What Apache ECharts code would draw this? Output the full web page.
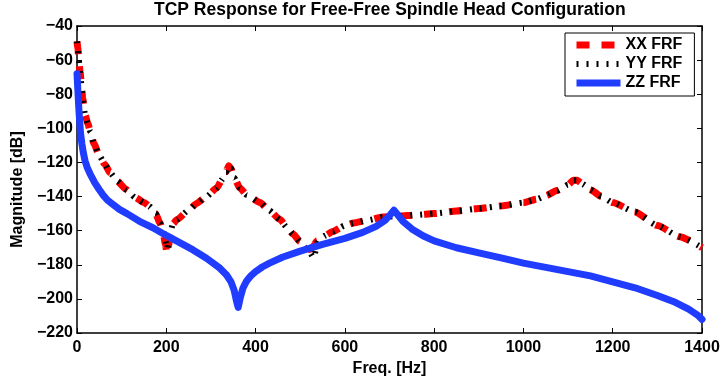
<!DOCTYPE html>
<html><head><meta charset="utf-8">
<script src="https://cdn.jsdelivr.net/npm/echarts@6/dist/echarts.min.js"></script>
<style>html,body{margin:0;padding:0;background:#fff}#c{width:720px;height:379px}</style>
</head><body><div id="c"></div>
<script>
const titleText = 'TCP Response for Free-Free Spindle Head Configuration';
const xName = 'Freq. [Hz]';
const yName = 'Magnitude [dB]';
const seriesNames = ['XX FRF', 'YY FRF', 'ZZ FRF'];

const xxFreq = [0,2,4,7,10,13,18,24,30,38,50,62,74,90,111,130,150,164,176,186,193,198,202,205,209,215,224,250,268,290,313,325,334,340,345,352,365,380,410,430,455,470,484,500,512,522,530,537,555,573,600,620,650,685,720,760,800,850,900,950,1000,1030,1050,1075,1100,1112,1120,1135,1150,1175,1200,1250,1300,1350,1400];
const xxMag  = [-49,-53,-60,-67,-75,-83,-92,-97,-102,-109,-116,-121,-126,-131,-136,-140.5,-143.5,-146,-150,-155.5,-161,-168,-174,-169,-161,-156,-153.5,-148,-144,-140,-135,-130,-125.5,-122,-123.5,-129,-135,-139,-143.5,-148,-153.5,-158,-162,-166.5,-170,-171,-169,-166,-163,-160.5,-157,-155.5,-154,-152,-151.5,-150.8,-150,-148.5,-147,-145.5,-143.5,-141.5,-139.5,-136.5,-133,-130.5,-130.5,-133,-136,-140,-143.5,-149,-157,-163.5,-170];

const yyFreq = [0,2,4,7,10,13,18,24,30,38,50,62,74,90,111,130,150,164,176,186,193,198,202,205,209,215,224,250,268,290,313,325,334,340,345,352,365,380,410,430,455,470,484,500,512,522,530,540,555,573,600,620,650,685,720,760,800,850,900,950,1000,1030,1050,1075,1100,1112,1120,1135,1150,1175,1200,1250,1300,1350,1400];
const yyMag  = [-49,-53,-60,-67,-75,-83,-92,-97,-102,-109,-116,-121,-126,-131,-136,-140.5,-143.5,-146,-150,-155.5,-160,-166,-171,-167,-161,-156,-153.5,-148,-144,-140,-135,-130,-125.5,-122,-123.5,-129,-135,-139,-143.5,-148,-153.5,-158,-162,-166.5,-170,-173,-176,-166,-163,-160.5,-157,-155.5,-154,-152,-151.5,-150.8,-150,-148.5,-147,-145.5,-143.5,-141.5,-139.5,-136.5,-133,-130.5,-130.5,-133,-136,-140,-143.5,-149,-157,-163.5,-170];

const zzFreq = [0,2,4,6,8,11,14,18,23,29,40,50,58,68,80,95,112,140,170,200,230,260,290,320,335,345,352,357,361,366,372,380,390,400,415,430,460,500,550,600,640,670,690,702,710,718,730,750,775,800,850,900,950,1000,1050,1100,1150,1200,1250,1300,1340,1370,1390,1400];
const zzMag  = [-68,-78,-88,-96,-103,-109,-114,-119,-123,-126.5,-132,-136,-139,-142,-144.5,-147.5,-150,-154.5,-158.3,-162.8,-167,-171.3,-176.2,-182,-186,-190,-195,-201,-205,-199,-193.5,-189.5,-186.3,-184,-181.3,-179.2,-175.6,-172,-168,-164.5,-161,-157.5,-154,-150.5,-148,-150.5,-154.5,-159,-163,-166,-170,-173,-176,-179,-181.5,-184,-186.5,-190,-193.5,-198,-202,-206,-209.5,-212];

const xTicks = {min: 0, max: 1400, step: 200};
const yTicks = {min: -220, max: -40, step: 20};

function pairs(xs, ys) { return xs.map((x, i) => [x, ys[i]]); }

const FONT = "'Liberation Sans', Arial, Helvetica, sans-serif";
const lbl = {fontFamily: FONT, fontWeight: 'bold', fontSize: 16, color: '#000'};
const axisLine = {show: true, onZero: false, lineStyle: {color: '#000', width: 1.5}};
const tick = {show: true, inside: true, length: 5, lineStyle: {color: '#000', width: 1}};
const minus = v => String(v).replace('-', '\u2212');
const BLUE = '#1f3cff';

const chart = echarts.init(document.getElementById('c'), null, {renderer: 'canvas'});
chart.setOption({
  animation: false,
  backgroundColor: '#fff',
  title: {
    text: titleText, left: 154, top: 1, padding: 0,
    textStyle: {fontFamily: FONT, fontWeight: 'bold', fontSize: 17.5, color: '#000'}
  },
  grid: {left: 77, right: 18, top: 26, bottom: 46, outerBoundsMode: 'none', containLabel: false},
  legend: {
    orient: 'vertical', left: 565, top: 33,
    padding: [4, 12, 5, 8], itemGap: 3, itemWidth: 44, itemHeight: 14,
    borderColor: '#000', borderWidth: 1, backgroundColor: '#fff',
    itemStyle: {opacity: 0},
    lineStyle: {width: 'inherit', type: 'inherit', color: 'inherit', cap: 'butt'},
    textStyle: {fontFamily: FONT, fontWeight: 'bold', fontSize: 16, color: '#000'},
    data: seriesNames
  },
  xAxis: [
    {type: 'value', position: 'bottom', min: xTicks.min, max: xTicks.max, interval: xTicks.step,
     name: xName, nameLocation: 'middle', nameGap: 28, nameTextStyle: lbl,
     axisLine, axisTick: tick, splitLine: {show: false},
     axisLabel: Object.assign({margin: 7, formatter: v => String(v)}, lbl)},
    {type: 'value', position: 'top', min: xTicks.min, max: xTicks.max, interval: xTicks.step,
     axisLine, axisTick: tick, splitLine: {show: false}, axisLabel: {show: false}}
  ],
  yAxis: [
    {type: 'value', position: 'left', min: yTicks.min, max: yTicks.max, interval: yTicks.step,
     name: yName, nameLocation: 'middle', nameGap: 50,
     nameTextStyle: Object.assign({padding: [0, 20, 0, 0]}, lbl),
     axisLine, axisTick: tick, splitLine: {show: false},
     axisLabel: Object.assign({margin: 4, formatter: minus}, lbl)},
    {type: 'value', position: 'right', min: yTicks.min, max: yTicks.max, interval: yTicks.step,
     axisLine, axisTick: tick, splitLine: {show: false}, axisLabel: {show: false}}
  ],
  series: [
    {name: seriesNames[0], type: 'line', symbol: 'none', smooth: 0.2, smoothMonotone: 'x', data: pairs(xxFreq, xxMag),
     lineStyle: {color: '#ff0000', width: 7, type: [13, 12], cap: 'butt'}, itemStyle: {color: '#ff0000'}},
    {name: seriesNames[1], type: 'line', symbol: 'none', smooth: 0.2, smoothMonotone: 'x', data: pairs(yyFreq, yyMag),
     lineStyle: {color: '#000000', width: 6, type: [2, 8], cap: 'butt'}, itemStyle: {color: '#000'}},
    {name: seriesNames[2], type: 'line', symbol: 'none', data: pairs(zzFreq, zzMag),
     lineStyle: {color: BLUE, width: 7, cap: 'round', join: 'round'}, itemStyle: {color: BLUE}}
  ]
});
</script>
</body></html>
